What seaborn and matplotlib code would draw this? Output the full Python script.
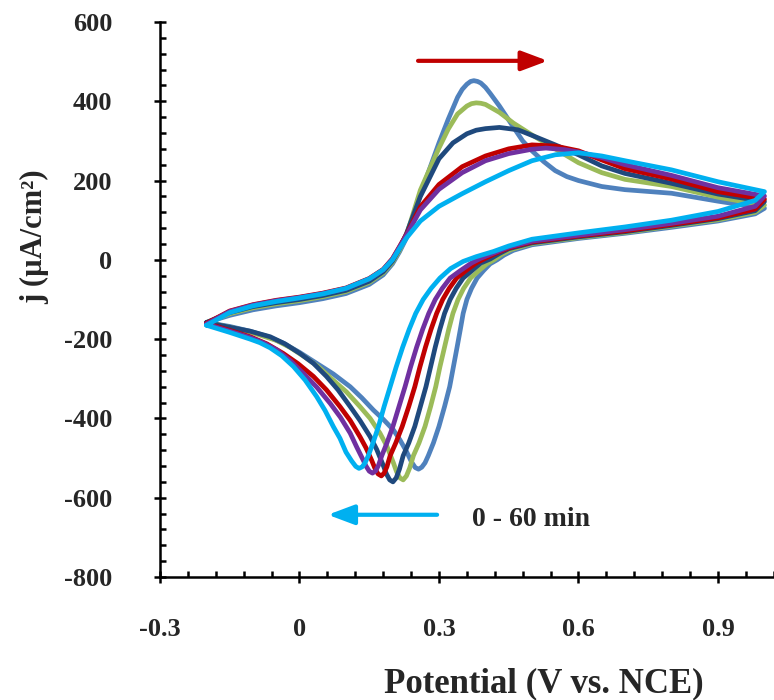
import matplotlib
matplotlib.use("Agg")
import matplotlib.pyplot as plt
from matplotlib.ticker import MultipleLocator
import seaborn as sns
import pandas as pd

# === DATA ===
# series order: 0 min ... 60 min
series = ["0 min", "12 min", "24 min", "36 min", "48 min", "60 min"]
colors = ["#4F81BD", "#9BBB59", "#1F497D", "#C00000", "#7030A0", "#00B0F0"]

# forward (anodic) scans, -0.2 -> 1.0 V
sb_fwd_E = [-0.2, -0.15, -0.1, -0.05, 0, 0.05, 0.1, 0.15, 0.18, 0.2, 0.215, 0.23, 0.26, 0.3, 0.32, 0.34, 0.35, 0.36, 0.368, 0.375, 0.383, 0.39, 0.4, 0.41, 0.43, 0.46, 0.48, 0.5, 0.525, 0.55, 0.575, 0.6, 0.65, 0.7, 0.8, 0.9, 1.0]
sb_fwd_j = [-158, -140, -126, -116, -108, -98, -85, -62, -38, -10, 20, 55, 165, 295, 355, 410, 430, 443, 450, 452, 450, 446, 435, 420, 388, 335, 300, 275, 248, 225, 210, 200, 185, 177, 168, 148, 130]
g_fwd_E = [-0.2, -0.15, -0.1, -0.05, 0, 0.05, 0.1, 0.15, 0.18, 0.2, 0.215, 0.23, 0.26, 0.3, 0.32, 0.34, 0.36, 0.37, 0.38, 0.39, 0.4, 0.43, 0.46, 0.5, 0.55, 0.6, 0.65, 0.7, 0.8, 0.9, 1.0]
g_fwd_j = [-158, -136, -121, -111, -103, -93, -80, -57, -33, -6, 24, 62, 176, 282, 330, 368, 388, 394, 396, 395, 392, 372, 345, 315, 280, 245, 220, 203, 185, 158, 138]
n_fwd_E = [-0.2, -0.15, -0.1, -0.05, 0, 0.05, 0.1, 0.15, 0.18, 0.2, 0.215, 0.23, 0.26, 0.3, 0.33, 0.36, 0.38, 0.4, 0.43, 0.47, 0.5, 0.55, 0.6, 0.65, 0.7, 0.8, 0.9, 1.0]
n_fwd_j = [-158, -133, -118, -108, -100, -90, -77, -54, -30, -3, 28, 66, 160, 255, 295, 318, 327, 331, 334, 328, 314, 290, 265, 237, 218, 193, 166, 147]
r_fwd_E = [-0.2, -0.15, -0.1, -0.05, 0, 0.05, 0.1, 0.15, 0.18, 0.2, 0.215, 0.23, 0.26, 0.3, 0.35, 0.4, 0.45, 0.5, 0.55, 0.6, 0.65, 0.7, 0.8, 0.9, 1.0]
r_fwd_j = [-160, -129, -113, -102, -94, -84, -71, -47, -24, 3, 33, 64, 134, 190, 235, 262, 280, 290, 287, 275, 252, 230, 204, 172, 153]
p_fwd_E = [-0.2, -0.15, -0.1, -0.05, 0, 0.05, 0.1, 0.15, 0.18, 0.2, 0.215, 0.23, 0.26, 0.3, 0.35, 0.4, 0.45, 0.5, 0.53, 0.57, 0.6, 0.65, 0.7, 0.8, 0.9, 1.0]
p_fwd_j = [-162, -130, -114, -103, -95, -85, -72, -48, -25, 2, 32, 62, 126, 178, 220, 250, 268, 279, 282, 278, 272, 258, 240, 213, 182, 161]
lb_fwd_E = [-0.2, -0.15, -0.1, -0.05, 0, 0.05, 0.1, 0.15, 0.18, 0.2, 0.215, 0.23, 0.26, 0.3, 0.35, 0.4, 0.45, 0.5, 0.55, 0.6, 0.65, 0.7, 0.8, 0.9, 1.0]
lb_fwd_j = [-165, -133, -116, -105, -96, -86, -72, -48, -25, 0, 28, 55, 98, 135, 167, 197, 225, 250, 265, 270, 262, 250, 227, 197, 172]

# reverse (cathodic) scans, 1.0 -> -0.2 V
sb_rev_E = [0.98, 0.9, 0.8, 0.7, 0.6, 0.5, 0.46, 0.44, 0.425, 0.41, 0.396, 0.382, 0.37, 0.36, 0.352, 0.346, 0.339, 0.331, 0.323, 0.312, 0.3, 0.288, 0.277, 0.27, 0.263, 0.256, 0.249, 0.241, 0.23, 0.216, 0.202, 0.18, 0.159, 0.134, 0.109, 0.073, 0.037, 0.001, -0.035, -0.07, -0.106, -0.15, -0.2]
sb_rev_j = [116, 98, 82, 67, 54, 38, 24, 12, 0, -10, -27, -46, -72, -100, -135, -175, -220, -270, -320, -370, -420, -462, -494, -512, -523, -528, -524, -510, -483, -454, -429, -402, -379, -348, -320, -288, -261, -234, -210, -193, -180, -168, -158]
g_rev_E = [0.98, 0.9, 0.8, 0.7, 0.6, 0.5, 0.455, 0.435, 0.418, 0.403, 0.385, 0.368, 0.353, 0.341, 0.33, 0.321, 0.312, 0.302, 0.293, 0.282, 0.27, 0.257, 0.245, 0.237, 0.23, 0.223, 0.216, 0.209, 0.202, 0.188, 0.173, 0.152, 0.13, 0.101, 0.072, 0.041, 0.01, -0.02, -0.05, -0.106, -0.15, -0.2]
g_rev_j = [120, 101, 85, 69, 56, 41, 26, 14, 0, -10, -28, -46, -72, -100, -135, -175, -220, -270, -320, -370, -420, -462, -494, -525, -545, -555, -550, -535, -512, -470, -437, -400, -370, -333, -303, -270, -244, -221, -203, -182, -170, -158]
n_rev_E = [0.98, 0.9, 0.8, 0.7, 0.6, 0.5, 0.45, 0.43, 0.41, 0.39, 0.37, 0.352, 0.337, 0.324, 0.312, 0.302, 0.292, 0.282, 0.272, 0.26, 0.248, 0.235, 0.223, 0.215, 0.208, 0.201, 0.194, 0.187, 0.18, 0.166, 0.152, 0.13, 0.109, 0.083, 0.058, 0.03, 0.001, -0.031, -0.063, -0.106, -0.15, -0.2]
n_rev_j = [124, 104, 87, 71, 58, 43, 28, 16, 2, -8, -28, -46, -72, -100, -135, -175, -220, -270, -320, -370, -420, -462, -494, -528, -550, -560, -555, -540, -518, -478, -446, -405, -370, -328, -294, -261, -236, -212, -194, -180, -170, -158]
r_rev_E = [0.98, 0.9, 0.8, 0.7, 0.6, 0.5, 0.45, 0.425, 0.4, 0.38, 0.357, 0.338, 0.322, 0.308, 0.295, 0.283, 0.271, 0.259, 0.248, 0.235, 0.221, 0.207, 0.195, 0.188, 0.182, 0.176, 0.169, 0.163, 0.155, 0.143, 0.13, 0.109, 0.087, 0.058, 0.03, -0.003, -0.035, -0.07, -0.106, -0.15, -0.2]
r_rev_j = [128, 106, 89, 73, 60, 45, 30, 18, 4, -8, -28, -46, -72, -100, -135, -175, -220, -270, -320, -370, -420, -462, -494, -522, -538, -545, -540, -528, -505, -474, -446, -405, -370, -328, -294, -262, -236, -212, -194, -178, -160]
p_rev_E = [0.98, 0.9, 0.8, 0.7, 0.6, 0.5, 0.45, 0.42, 0.39, 0.37, 0.345, 0.324, 0.307, 0.292, 0.278, 0.265, 0.252, 0.239, 0.227, 0.214, 0.201, 0.188, 0.177, 0.17, 0.164, 0.157, 0.15, 0.143, 0.137, 0.123, 0.109, 0.088, 0.066, 0.037, 0.008, -0.02, -0.049, -0.078, -0.106, -0.15, -0.2]
p_rev_j = [135, 110, 92, 76, 62, 47, 32, 18, 4, -8, -28, -46, -72, -100, -135, -175, -220, -270, -320, -370, -420, -462, -494, -518, -532, -538, -533, -520, -505, -472, -437, -397, -362, -321, -286, -254, -227, -209, -196, -180, -162]
lb_rev_E = [0.98, 0.9, 0.8, 0.7, 0.6, 0.5, 0.45, 0.417, 0.38, 0.352, 0.325, 0.302, 0.283, 0.266, 0.25, 0.236, 0.222, 0.208, 0.195, 0.182, 0.17, 0.158, 0.148, 0.141, 0.135, 0.128, 0.121, 0.112, 0.1, 0.087, 0.073, 0.055, 0.037, 0.012, -0.013, -0.038, -0.063, -0.085, -0.106, -0.15, -0.2]
lb_rev_j = [150, 122, 100, 83, 68, 52, 35, 21, 8, -4, -22, -46, -72, -100, -135, -175, -220, -270, -320, -370, -420, -462, -494, -512, -522, -526, -521, -507, -485, -450, -421, -380, -345, -303, -269, -242, -222, -209, -200, -183, -165]

x_ticks = [-0.3, 0, 0.3, 0.6, 0.9]
x_ticklabels = ["-0.3", "0", "0.3", "0.6", "0.9"]
y_ticks = [-800, -600, -400, -200, 0, 200, 400, 600]

# build one long table, fwd then rev for every curve
curves = [
    (sb_fwd_E, sb_fwd_j, sb_rev_E, sb_rev_j),
    (g_fwd_E, g_fwd_j, g_rev_E, g_rev_j),
    (n_fwd_E, n_fwd_j, n_rev_E, n_rev_j),
    (r_fwd_E, r_fwd_j, r_rev_E, r_rev_j),
    (p_fwd_E, p_fwd_j, p_rev_E, p_rev_j),
    (lb_fwd_E, lb_fwd_j, lb_rev_E, lb_rev_j),
]
frames = []
for name, (fe, fj, re_, rj) in zip(series, curves):
    frames.append(pd.DataFrame({"E": fe + re_, "j": fj + rj, "series": name}))
df = pd.concat(frames, ignore_index=True)

# === PLOTTING ===
sns.set_style("ticks")
plt.rcParams["font.family"] = ["Liberation Serif", "DejaVu Serif"]
plt.rcParams["font.weight"] = "bold"
plt.rcParams["axes.unicode_minus"] = False

fig = plt.figure(figsize=(7.74, 7.0), dpi=100)
ax = fig.add_axes([0.2067, 0.1757, 0.793, 0.7929])

sns.lineplot(data=df, x="E", y="j", hue="series", hue_order=series,
             palette=dict(zip(series, colors)), sort=False, estimator=None,
             linewidth=3.4, legend=False, ax=ax)
for ln in ax.get_lines():
    ln.set_solid_joinstyle("round")

ax.set_xlim(-0.3, 1.02)
ax.set_ylim(-800, 600)
ax.set_xticks(x_ticks)
ax.set_xticklabels(x_ticklabels)
ax.set_yticks(y_ticks)
ax.xaxis.set_minor_locator(MultipleLocator(0.06))
ax.yaxis.set_minor_locator(MultipleLocator(40))
ax.tick_params(which="major", direction="inout", length=9, width=1.8,
               color="black", labelsize=19)
ax.tick_params(which="minor", direction="in", length=4.5, width=1.8, color="black")
ax.tick_params(axis="x", which="major", pad=25)
ax.tick_params(axis="y", which="major", pad=30)
for lab in ax.get_xticklabels() + ax.get_yticklabels():
    lab.set_fontweight("bold")

sns.despine(ax=ax)
for s in ["left", "bottom"]:
    ax.spines[s].set_linewidth(1.8)
    ax.spines[s].set_color("black")

ax.set_xlabel("Potential (V vs. NCE)", fontsize=25, fontweight="bold")
ax.set_ylabel("j (\u00b5A/cm\u00b2)", fontsize=22, fontweight="bold")
ax.xaxis.set_label_coords(0.626, -0.162)
ax.yaxis.set_label_coords(-0.18, 0.613)

# scan direction arrows
ax.annotate("", xy=(0.534, 502), xytext=(0.255, 502),
            arrowprops=dict(arrowstyle="-|>,head_length=0.8,head_width=0.3",
                            color="#C00000", lw=3, mutation_scale=20,
                            shrinkA=0, shrinkB=0))
ax.annotate("", xy=(0.061, -643), xytext=(0.296, -643),
            arrowprops=dict(arrowstyle="-|>,head_length=0.8,head_width=0.3",
                            color="#00B0F0", lw=3, mutation_scale=20,
                            shrinkA=0, shrinkB=0))
ax.text(0.371, -656, "0 - 60 min", fontsize=20, fontweight="bold",
        ha="left", va="center")

fig.savefig("out.png", dpi=100)
